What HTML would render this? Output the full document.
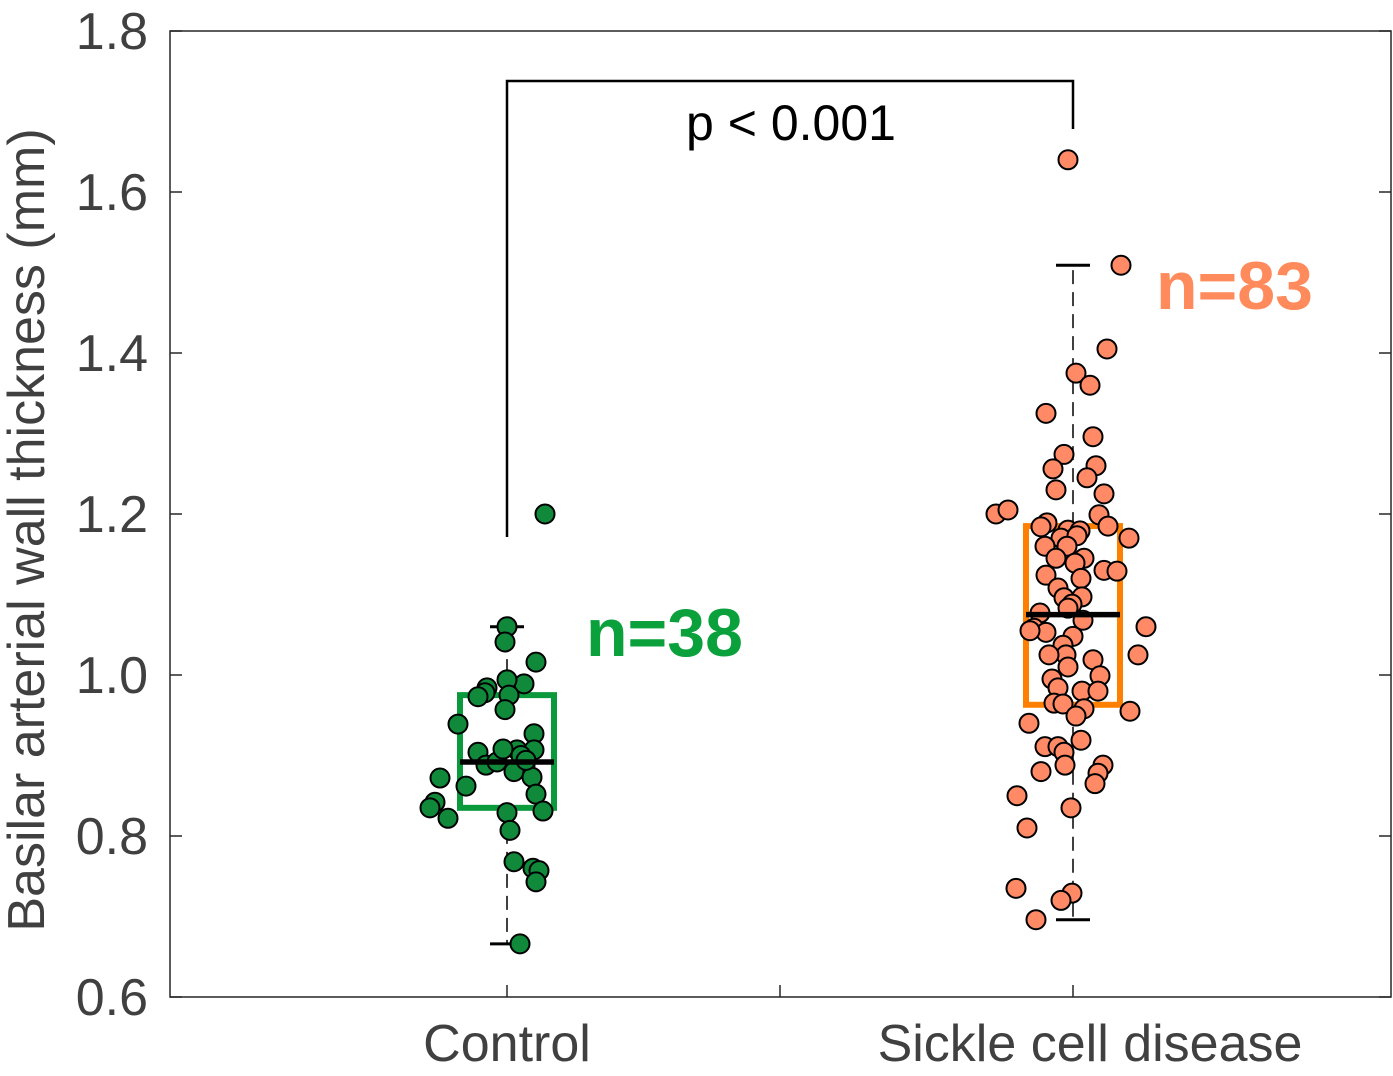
<!DOCTYPE html>
<html><head><meta charset="utf-8"><style>
body{margin:0;background:#fff;}
svg{display:block;font-family:"Liberation Sans",sans-serif;}
</style></head><body>
<svg id="chart" width="1393" height="1076">
</svg>
<script>
const categories=["Control","Sickle cell disease"];
const yTicks=[0.6,0.8,1.0,1.2,1.4,1.6,1.8];
const controlJitter=[38,0,-2,29,17,-20,-22,0,-29,2,-2,-49,27,-29,10,27,14,-21,18,7,25,-67,-41,29,-72,-77,36,0,-59,3,7,26,32,29,13,-10,-4,19];
const controlValues=[1.20,1.06,1.041,1.016,0.989,0.984,0.978,0.994,0.973,0.975,0.957,0.939,0.927,0.904,0.907,0.907,0.900,0.888,0.888,0.880,0.873,0.872,0.862,0.852,0.842,0.835,0.831,0.829,0.822,0.807,0.768,0.760,0.757,0.743,0.666,0.892,0.908,0.894];
const scdJitter=[-5,48,34,3,17,-27,20,-9,-20,23,14,-17,31,26,-77,-65,35,-26,-32,-5,7,-12,4,56,-28,-6,-17,11,2,-27,31,44,8,-15,-9,9,-1,-33,-5,10,-39,-27,-43,73,0,-10,-7,-24,65,20,-5,-21,27,-15,9,25,-19,-10,11,57,3,-44,8,-28,-15,-9,30,-8,25,-32,22,-56,-2,-46,-57,-1,-12,-37];
const scdValues=[1.640,1.509,1.405,1.375,1.360,1.325,1.296,1.274,1.256,1.260,1.245,1.230,1.225,1.199,1.200,1.205,1.185,1.189,1.184,1.180,1.179,1.170,1.173,1.170,1.160,1.160,1.145,1.145,1.139,1.124,1.130,1.129,1.120,1.108,1.096,1.097,1.088,1.077,1.083,1.068,1.058,1.053,1.055,1.060,1.048,1.037,1.025,1.025,1.025,1.019,1.010,0.995,0.999,0.984,0.980,0.980,0.965,0.964,0.958,0.955,0.949,0.940,0.919,0.911,0.911,0.904,0.888,0.888,0.878,0.880,0.865,0.850,0.835,0.810,0.735,0.729,0.720,0.696];
const boxQ1=[0.835,0.963];
const boxMedian=[0.892,1.075];
const boxQ3=[0.975,1.185];
const whiskerLow=[0.666,0.696];
const whiskerHigh=[1.06,1.509];
const nLabels=["n=38","n=83"];

const L=170,R=1391,T=31,B=997;
const y=v=>B-(v-0.6)/1.2*(B-T);
const x=c=>507+c*566;
const svg=document.getElementById('chart');
const NS='http://www.w3.org/2000/svg';
function mk(tag,attrs,parent){const e=document.createElementNS(NS,tag);for(const k in attrs)e.setAttribute(k,attrs[k]);(parent||svg).appendChild(e);return e;}

let frame=mk('rect',{x:L,y:T,width:R-L,height:B-T,fill:'none',stroke:'#262626','stroke-width':1.5});


yTicks.forEach(v=>{
  let t1=mk('line',{x1:L,x2:L+12,y1:y(v),y2:y(v),stroke:'#262626','stroke-width':1.5});
  
  
  let t2=mk('line',{x1:R-12,x2:R,y1:y(v),y2:y(v),stroke:'#262626','stroke-width':1.5});
  
  
  let lb=mk('text',{x:148,y:y(v)+18,'text-anchor':'end','font-size':52,fill:'#404040'});
  lb.textContent=v.toFixed(1);
  
  
});
[0,1].forEach(c=>{
  let t=mk('line',{x1:x(c),x2:x(c),y1:B,y2:B-12,stroke:'#262626','stroke-width':1.5});
  
  
  let lb=mk('text',{x:x(c)+(c?17:0),y:1061,'text-anchor':'middle','font-size':52,fill:'#404040'});
  lb.textContent=categories[c];
  
  
});
let mid=mk('line',{x1:780,x2:780,y1:B,y2:B-12,stroke:'#262626','stroke-width':1.5});


let yt=mk('text',{x:0,y:0,transform:'translate(44,530) rotate(-90)','text-anchor':'middle','font-size':52,fill:'#404040'});
yt.textContent='Basilar arterial wall thickness (mm)';



const boxColors=['#0a9a3c','#ff8000'];
const ptColors=['#108a3a','#ff8a65'];
const nColors=['#0aa03c','#ff8a5c'];
[0,1].forEach(c=>{
  const cx=x(c),hw=47;
  let w1=mk('line',{x1:cx,x2:cx,y1:y(boxQ3[c]),y2:y(whiskerHigh[c]),stroke:'#000','stroke-width':1.5,'stroke-dasharray':'14,8'});
  
  
  let w2=mk('line',{x1:cx,x2:cx,y1:y(boxQ1[c]),y2:y(whiskerLow[c]),stroke:'#000','stroke-width':1.5,'stroke-dasharray':'14,8'});
  
  
  [whiskerHigh[c],whiskerLow[c]].forEach(v=>{
    let cap=mk('line',{x1:cx-17,x2:cx+17,y1:y(v),y2:y(v),stroke:'#000','stroke-width':3});
    
    
  });
  let box=mk('rect',{x:cx-hw,y:y(boxQ3[c]),width:hw*2,height:y(boxQ1[c])-y(boxQ3[c]),fill:'none',stroke:boxColors[c],'stroke-width':6});
  
  
  const vals=c?scdValues:controlValues, jit=c?scdJitter:controlJitter;
  vals.forEach((v,i)=>{
    let p=mk('circle',{cx:cx+jit[i],cy:y(v),r:9.5,fill:ptColors[c],stroke:'#000','stroke-width':2});
    
    
  });
  let med=mk('line',{x1:cx-hw,x2:cx+hw,y1:y(boxMedian[c]),y2:y(boxMedian[c]),stroke:'#000','stroke-width':5.5});
  
  
  let n=mk('text',{x:c?1156:586,y:c?309:656,'font-size':68,'font-weight':'bold',fill:nColors[c]});
  n.textContent=nLabels[c];
  
  
});
let br=mk('polyline',{points:`${x(0)},537 ${x(0)},81 ${x(1)},81 ${x(1)},129`,fill:'none',stroke:'#000','stroke-width':2.5});


let pt=mk('text',{x:791,y:140,'text-anchor':'middle','font-size':50,fill:'#000'});
pt.textContent='p < 0.001';


</script>
</body></html>
